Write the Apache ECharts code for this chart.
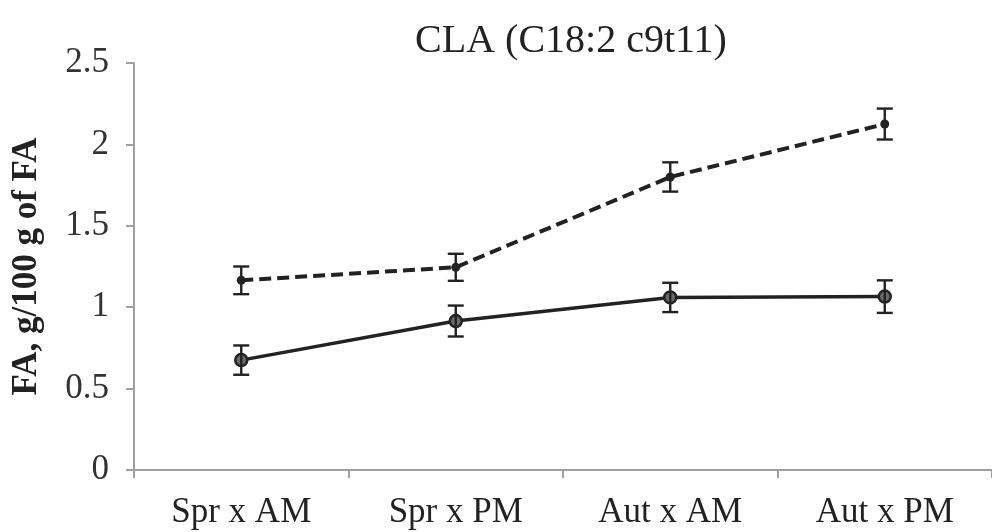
<!DOCTYPE html>
<html><head><meta charset="utf-8">
<script src="https://cdn.jsdelivr.net/npm/echarts@6/dist/echarts.min.js"></script>
<style>html,body{margin:0;padding:0;background:#fff}#c{width:992px;height:532px}</style>
</head><body><div id="c"></div>
<script>
const categories = ['Spr x AM', 'Spr x PM', 'Aut x AM', 'Aut x PM'];
const dashedValues = [1.165, 1.245, 1.80, 2.125];
const dashedErrors = [0.085, 0.083, 0.09, 0.095];
const solidValues = [0.675, 0.915, 1.06, 1.065];
const solidErrors = [0.09, 0.095, 0.09, 0.1];
const yTicks = [0, 0.5, 1, 1.5, 2, 2.5];

const serif = '"Liberation Serif", "DejaVu Serif", serif';
const lineColor = '#222222';

function errorSeries(values, errors) {
  return {
    type: 'custom',
    z: 5,
    data: values.map((v, i) => [i, v - errors[i], v + errors[i]]),
    renderItem: function (params, api) {
      const lo = api.coord([api.value(0), api.value(1)]);
      const hi = api.coord([api.value(0), api.value(2)]);
      const hw = 8;
      const st = { stroke: lineColor, lineWidth: 2.4 };
      return {
        type: 'group',
        children: [
          { type: 'line', shape: { x1: lo[0], y1: lo[1], x2: hi[0], y2: hi[1] }, style: st },
          { type: 'line', shape: { x1: lo[0] - hw, y1: lo[1], x2: lo[0] + hw, y2: lo[1] }, style: st },
          { type: 'line', shape: { x1: hi[0] - hw, y1: hi[1], x2: hi[0] + hw, y2: hi[1] }, style: st }
        ]
      };
    }
  };
}

const chart = echarts.init(document.getElementById('c'));
chart.setOption({
  animation: false,
  backgroundColor: '#fff',
  title: {
    text: 'CLA (C18:2 c9t11)',
    left: 566, top: 16, textAlign: 'center',
    textStyle: { fontFamily: serif, fontSize: 40, fontWeight: 'normal', color: '#222' }
  },
  grid: { left: 134, top: 63, width: 863, bottom: 62 },
  xAxis: {
    type: 'category',
    data: categories,
    boundaryGap: true,
    axisLine: { lineStyle: { color: '#a0a0a0', width: 2 } },
    axisTick: { show: true, length: 8, lineStyle: { color: '#a0a0a0', width: 2 } },
    axisLabel: { fontFamily: serif, fontSize: 35, color: '#222', margin: 25 }
  },
  yAxis: {
    type: 'value',
    min: 0, max: 2.5, interval: 0.5,
    name: 'FA, g/100 g of FA',
    nameLocation: 'middle',
    nameGap: 90,
    nameTextStyle: { fontFamily: serif, fontSize: 35, fontWeight: 'bold', color: '#222' },
    axisLine: { show: true, lineStyle: { color: '#a0a0a0', width: 2 } },
    axisTick: { show: true, length: 8, inside: false, lineStyle: { color: '#a0a0a0', width: 2 } },
    splitLine: { show: false },
    axisLabel: {
      fontFamily: serif, fontSize: 35, color: '#333', margin: 25,
      formatter: v => yTicks.includes(v) ? String(v) : ''
    }
  },
  series: [
    {
      type: 'line', data: dashedValues, z: 3,
      lineStyle: { color: lineColor, width: 4, type: [12, 6] },
      symbol: 'circle', symbolSize: 9,
      itemStyle: { color: lineColor }
    },
    {
      type: 'line', data: solidValues, z: 3,
      lineStyle: { color: lineColor, width: 3.5 },
      symbol: 'circle', symbolSize: 12,
      itemStyle: { color: '#6a6a6a', borderColor: lineColor, borderWidth: 2.5 }
    },
    errorSeries(dashedValues, dashedErrors),
    errorSeries(solidValues, solidErrors)
  ]
});
</script></body></html>
